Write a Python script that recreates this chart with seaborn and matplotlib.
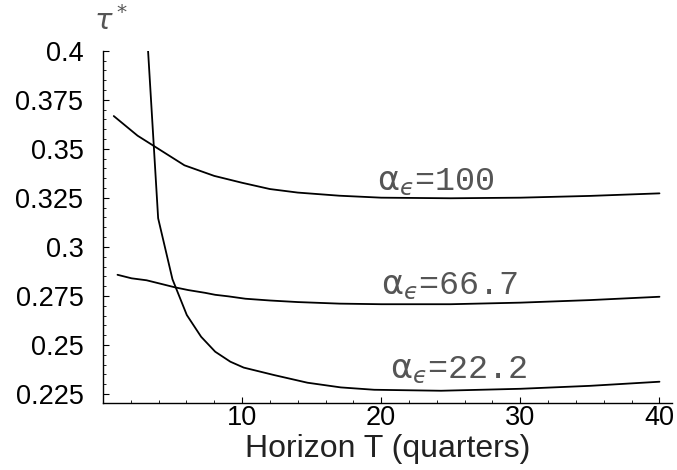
import matplotlib
matplotlib.use('Agg')
import matplotlib.pyplot as plt
from matplotlib.ticker import MultipleLocator, FuncFormatter
import seaborn as sns

# horizon T (quarters) and optimal tau* for each alpha_epsilon
T_100 = [0.78, 2.49, 5.86, 8.0, 10.0, 12.0, 14.0, 17.0, 20.0, 25.0, 30.0, 35.0, 40.0]
tau_100 = [0.3667, 0.3567, 0.3416, 0.3362, 0.3327, 0.3295, 0.3277, 0.3261, 0.3251, 0.3248, 0.3251, 0.3260, 0.3273]

T_667 = [1.05, 2.06, 3.14, 4.22, 5.18, 6.14, 7.35, 8.07, 9.03, 10.24, 12.0, 14.0, 17.0, 20.0, 25.0, 30.0, 35.0, 40.0]
tau_667 = [0.2858, 0.2840, 0.2830, 0.2811, 0.2794, 0.2780, 0.2766, 0.2756, 0.2748, 0.2736,
           0.2727, 0.2719, 0.2711, 0.2708, 0.2708, 0.2716, 0.2729, 0.2746]

T_222 = [3.0, 3.97, 5.0, 6.03, 7.06, 8.07, 9.16, 10.12, 12.3, 14.7, 17.1, 19.5, 24.3, 30.0, 35.0, 40.0]
tau_222 = [0.4289, 0.3146, 0.2835, 0.2653, 0.2542, 0.2466, 0.2415, 0.2385, 0.2347, 0.2308,
           0.2284, 0.2272, 0.2267, 0.2277, 0.2292, 0.2313]

labels = [r'$\mathrm{\alpha}_{ϵ}$=100', r'$\mathrm{\alpha}_{ϵ}$=66.7', r'$\mathrm{\alpha}_{ϵ}$=22.2']
label_T = [19.7, 20.0, 20.6]
label_tau = [0.3290, 0.2760, 0.2330]

sns.set_theme(style='white')
plt.rcParams['font.family'] = ['Liberation Sans', 'DejaVu Sans']

fig = plt.figure(figsize=(6.77, 4.70), dpi=100)
ax = fig.add_axes([0.1520, 0.1419, 0.8406, 0.7502])

for T, tau in [(T_100, tau_100), (T_667, tau_667), (T_222, tau_222)]:
    sns.lineplot(x=T, y=tau, color='black', linewidth=1.3, sort=False, ax=ax)

for txt, tx, ty in zip(labels, label_T, label_tau):
    ax.text(tx, ty, txt, family=['Liberation Mono', 'DejaVu Sans'], fontsize=24,
            color='#555555', ha='left', va='baseline')

ax.set_xlim(0, 40.9)
ax.set_ylim(0.2203, 0.4)
ax.set_xticks([10, 20, 30, 40])
ax.xaxis.set_minor_locator(MultipleLocator(2))
ax.set_yticks([0.225, 0.25, 0.275, 0.3, 0.325, 0.35, 0.375, 0.4])
ax.yaxis.set_minor_locator(MultipleLocator(0.005))
ax.yaxis.set_major_formatter(FuncFormatter(lambda v, p: '{:g}'.format(round(v, 3))))

for s in ['top', 'right']:
    ax.spines[s].set_visible(False)
for s in ['left', 'bottom']:
    ax.spines[s].set_color('black')
    ax.spines[s].set_linewidth(1.0)

ax.tick_params(which='both', direction='in', color='black', labelcolor='black',
               left=True, bottom=True)
ax.tick_params(which='major', length=4, width=0.8, labelsize=19.5)
ax.tick_params(which='minor', length=2, width=0.6)
ax.tick_params(axis='y', which='major', pad=14)
ax.tick_params(axis='x', which='major', pad=1.5)

ax.set_xlabel('Horizon T (quarters)', fontsize=23, color='#222222', labelpad=2)
fig.text(94 / 677, (470 - 30) / 470, r'$\tau^*$', fontsize=21, color='#555555',
         ha='left', va='baseline')

fig.savefig('out.png', dpi=100, facecolor='white')
